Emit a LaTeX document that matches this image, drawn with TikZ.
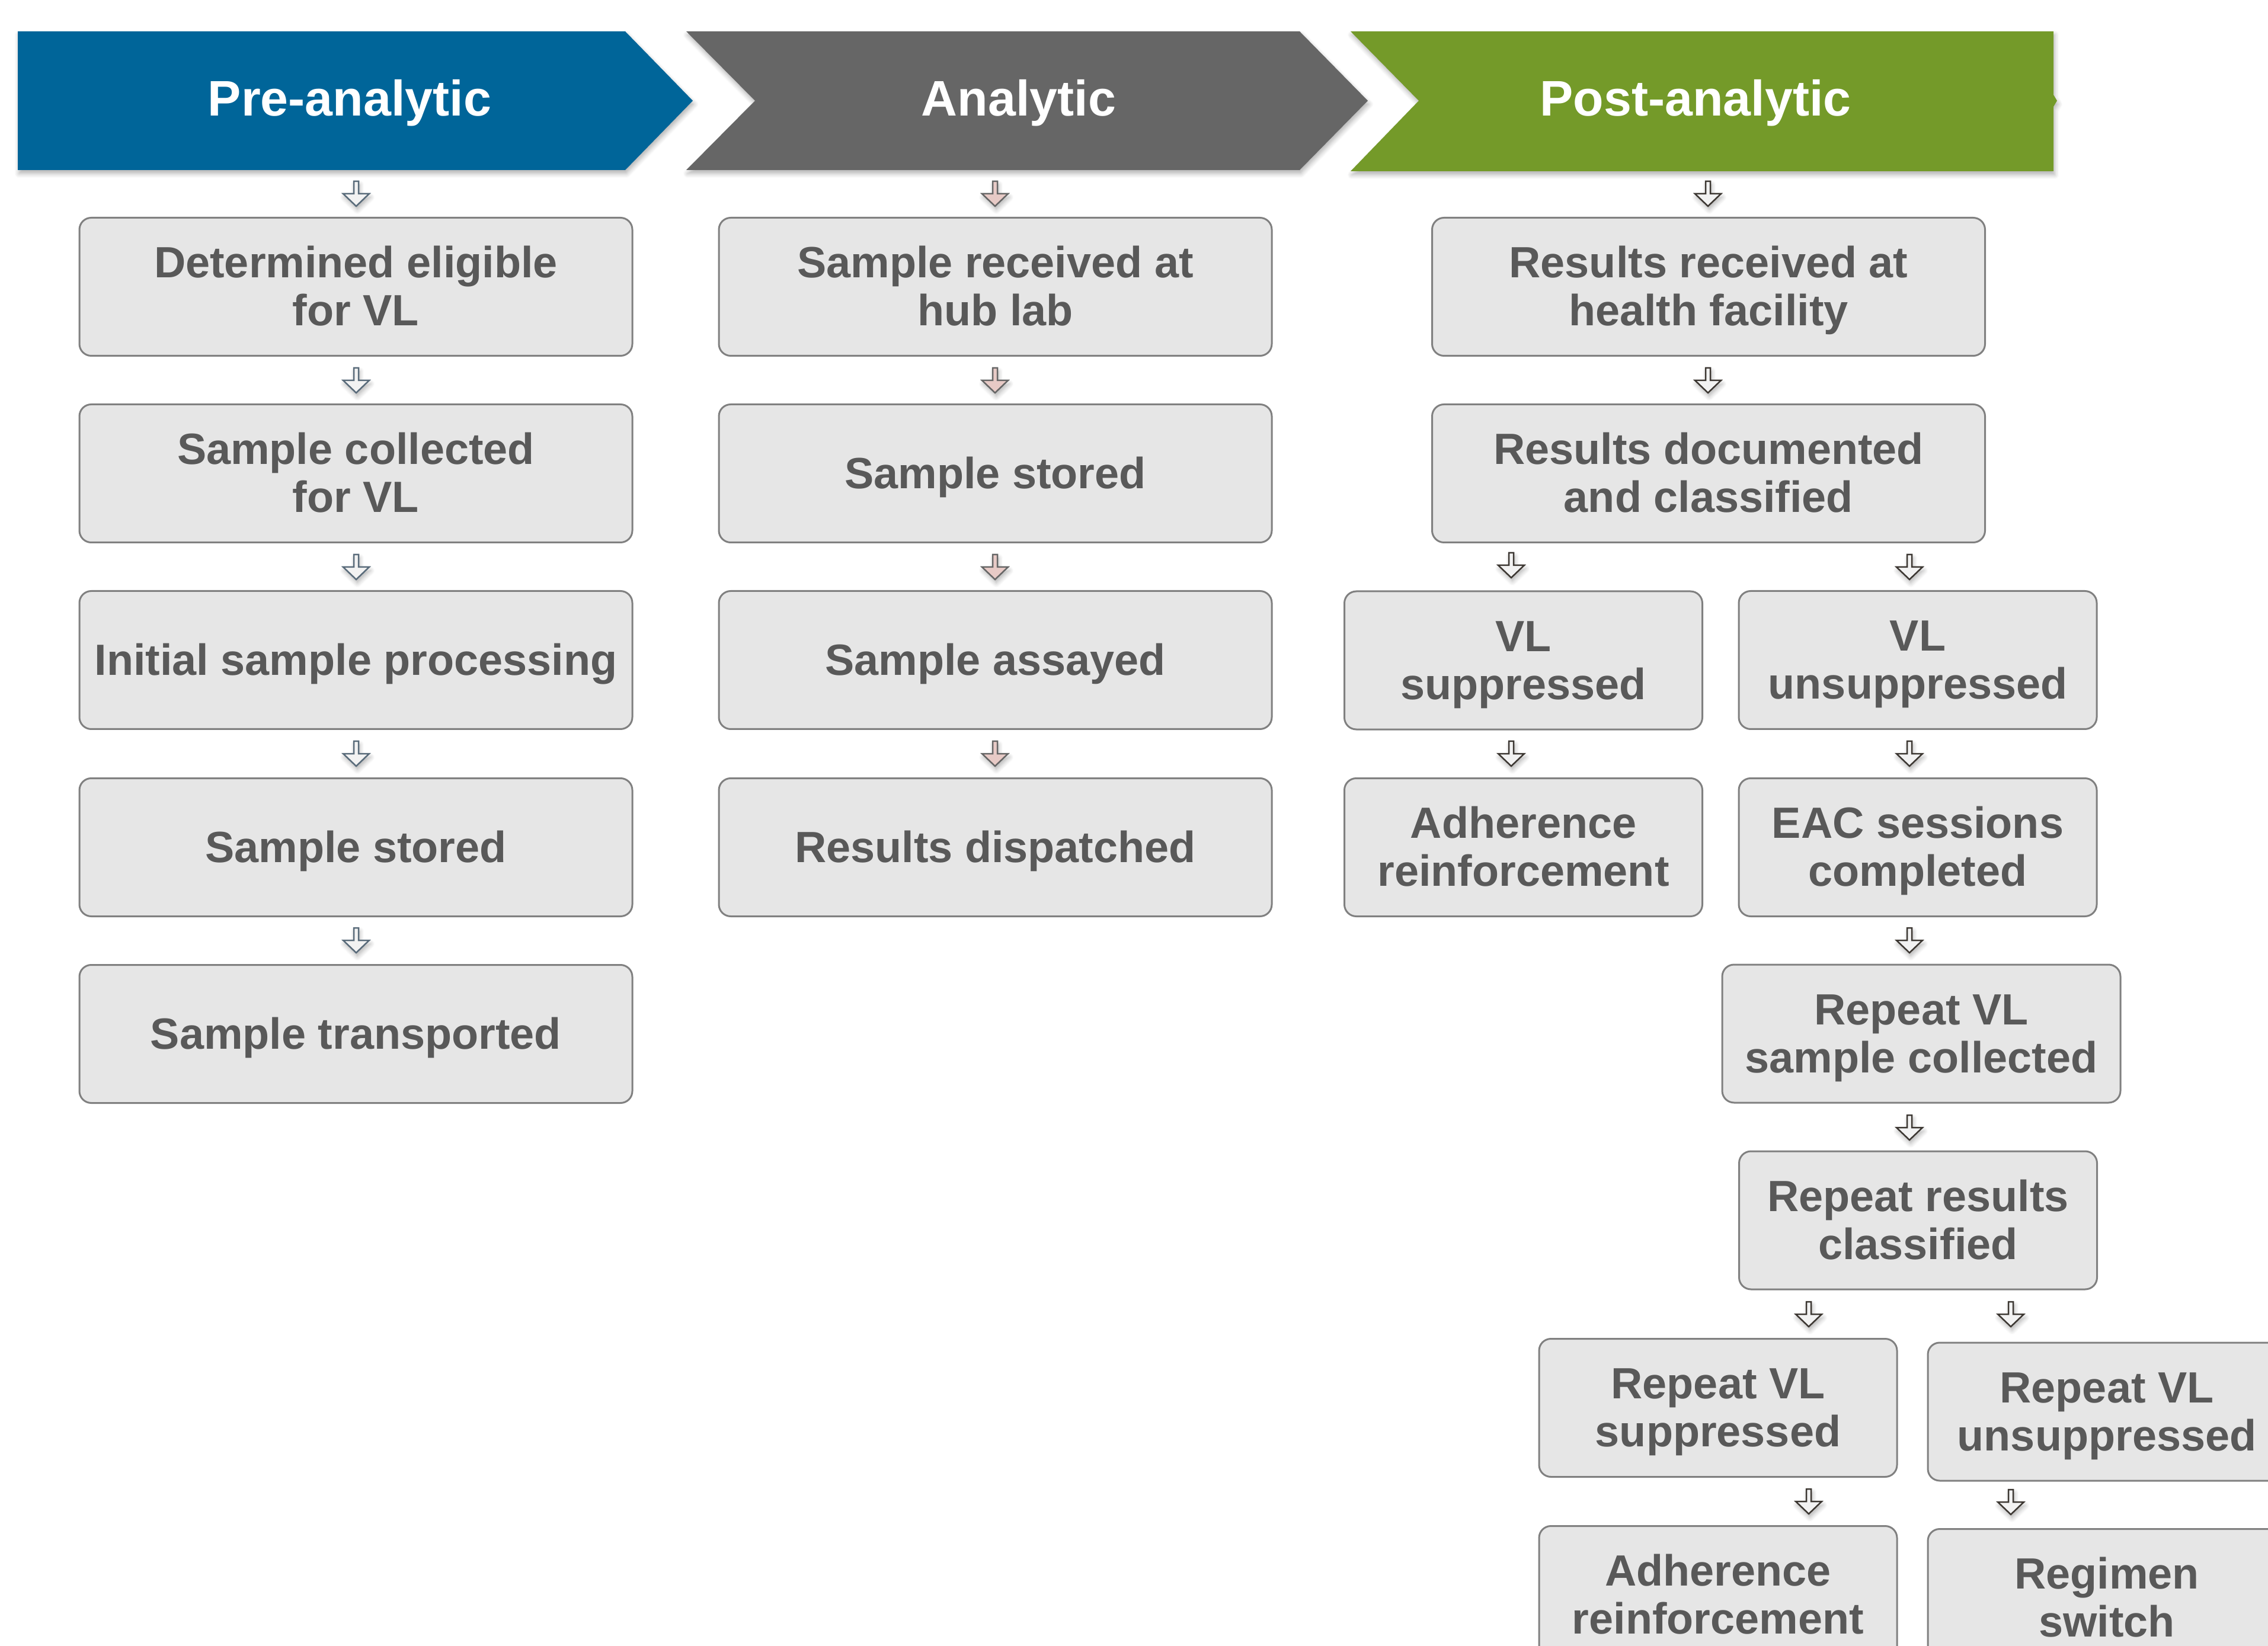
\documentclass[tikz,border=0pt]{standalone}
\usepackage{fontspec}
\setmainfont{Liberation Sans}
\usepackage{xcolor}
\definecolor{vlblue}{RGB}{0,101,153}
\definecolor{vlgray}{RGB}{102,102,102}
\definecolor{vlgreen}{RGB}{116,154,41}
\definecolor{vlfill}{RGB}{230,230,230}
\definecolor{vlline}{RGB}{128,128,128}
\definecolor{vltext}{RGB}{89,89,89}
\definecolor{vlslate}{RGB}{89,107,122}
\definecolor{vlpink}{RGB}{231,202,198}
\definecolor{vldark}{RGB}{60,55,50}
\definecolor{vllight}{RGB}{242,242,242}
\usetikzlibrary{shadows.blur}

\begin{document}
\begin{tikzpicture}[
    stage/.style={font=\fontsize{24}{28}\selectfont\bfseries, text=white, anchor=base},
    stepbox/.style={draw=vlline, fill=vlfill, line width=0.03cm, rounded corners=0.2cm,
        minimum height=2.33cm, inner sep=0pt, align=center, text=vltext,
        font=\fontsize{21}{23}\selectfont\bfseries,
        execute at begin node={\rule{0pt}{0.90em}},
        execute at end node={\rule[-0.22em]{0pt}{0.22em}}},
    twoline/.style={execute at begin node={\rule{0pt}{2.0em}}},
    widebox/.style={stepbox, minimum width=9.33cm},
    halfbox/.style={stepbox, minimum width=6.04cm},
    softshadow/.style={blur shadow={shadow xshift=0.02cm, shadow yshift=-0.06cm,
        shadow blur steps=6, shadow opacity=30}},
    prearr/.style={draw=vlslate, fill=vllight, softshadow},
    anaarr/.style={draw=vlgray, fill=vlpink, softshadow},
    postarr/.style={draw=vldark, fill=vllight, softshadow},
    pics/downarr/.style={code={
        \draw[#1, line width=0.025cm] (-0.04,0.21) -- (0.04,0.21) -- (0.04,0) -- (0.22,0)
            -- (0,-0.21) -- (-0.22,0) -- (-0.04,0) -- cycle;}}
]
\useasboundingbox (0,0) rectangle (38.27,-27.78);
\clip (0,0) rectangle (38.27,-27.78);

% --- Stage banners ---
\fill[vlblue, softshadow] (0.30,-0.53) -- (10.55,-0.53) -- (11.69,-1.70) -- (10.55,-2.87)
    -- (0.30,-2.87) -- cycle;
\fill[vlgray, softshadow] (11.58,-0.53) -- (21.93,-0.53) -- (23.08,-1.70) -- (21.93,-2.87)
    -- (11.58,-2.87) -- (12.74,-1.70) -- cycle;
\fill[vlgreen, softshadow] (22.79,-0.53) -- (34.65,-0.53) -- (34.65,-1.60) -- (34.71,-1.70)
    -- (34.65,-1.80) -- (34.65,-2.89) -- (22.79,-2.89) -- (23.94,-1.70) -- cycle;
\node[stage] (pre) at (5.90,-1.96) {Pre-analytic};
\node[stage] (ana) at (17.19,-1.96) {Analytic};
\node[stage] (post) at (28.61,-1.96) {Post-analytic};

% --- Pre-analytic column ---
\node[widebox, twoline] (p1) at (6.005,-4.84) {Determined eligible\\for VL};
\node[widebox, twoline] (p2) at (6.005,-7.99) {Sample collected\\for VL};
\node[widebox] (p3) at (6.005,-11.14) {Initial sample processing};
\node[widebox] (p4) at (6.005,-14.30) {Sample stored};
\node[widebox] (p5) at (6.005,-17.45) {Sample transported};
\foreach \y in {3.27,6.42,9.57,12.72,15.87}
    \pic at (6.01,-\y) {downarr=prearr};

% --- Analytic column ---
\node[widebox, twoline] (a1) at (16.795,-4.84) {Sample received at\\hub lab};
\node[widebox] (a2) at (16.795,-7.99) {Sample stored};
\node[widebox] (a3) at (16.795,-11.14) {Sample assayed};
\node[widebox] (a4) at (16.795,-14.30) {Results dispatched};
\foreach \y in {3.27,6.42,9.57,12.72}
    \pic at (16.79,-\y) {downarr=anaarr};

% --- Post-analytic column ---
\node[widebox, twoline] (r1) at (28.83,-4.84) {Results received at\\health facility};
\node[widebox, twoline] (r2) at (28.83,-7.99) {Results documented\\and classified};
\node[halfbox, twoline] (vls) at (25.705,-11.145) {VL\\suppressed};
\node[halfbox, twoline] (vlu) at (32.36,-11.14) {VL\\unsuppressed};
\node[halfbox, twoline] (adh) at (25.705,-14.30) {Adherence\\reinforcement};
\node[halfbox, twoline] (eac) at (32.36,-14.30) {EAC sessions\\completed};
\node[stepbox, twoline, minimum width=6.72cm] (rsc) at (32.42,-17.445) {Repeat VL\\sample collected};
\node[halfbox, twoline] (rrc) at (32.365,-20.595) {Repeat results\\classified};
\node[halfbox, twoline] (rvs) at (28.99,-23.76) {Repeat VL\\suppressed};
\node[halfbox, twoline] (rvu) at (35.55,-23.825) {Repeat VL\\unsuppressed};
\node[halfbox, twoline] (adh2) at (28.99,-26.92) {Adherence\\reinforcement};
\node[halfbox, twoline] (rsw) at (35.55,-26.97) {Regimen\\switch};
\foreach \x/\y in {28.82/3.27, 28.82/6.42, 25.50/9.54, 32.22/9.57, 25.50/12.72, 32.22/12.72,
        32.22/15.87, 32.22/19.03, 30.52/22.18, 33.93/22.18, 30.52/25.34, 33.93/25.35}
    \pic at (\x,-\y) {downarr=postarr};

\end{tikzpicture}
\end{document}
